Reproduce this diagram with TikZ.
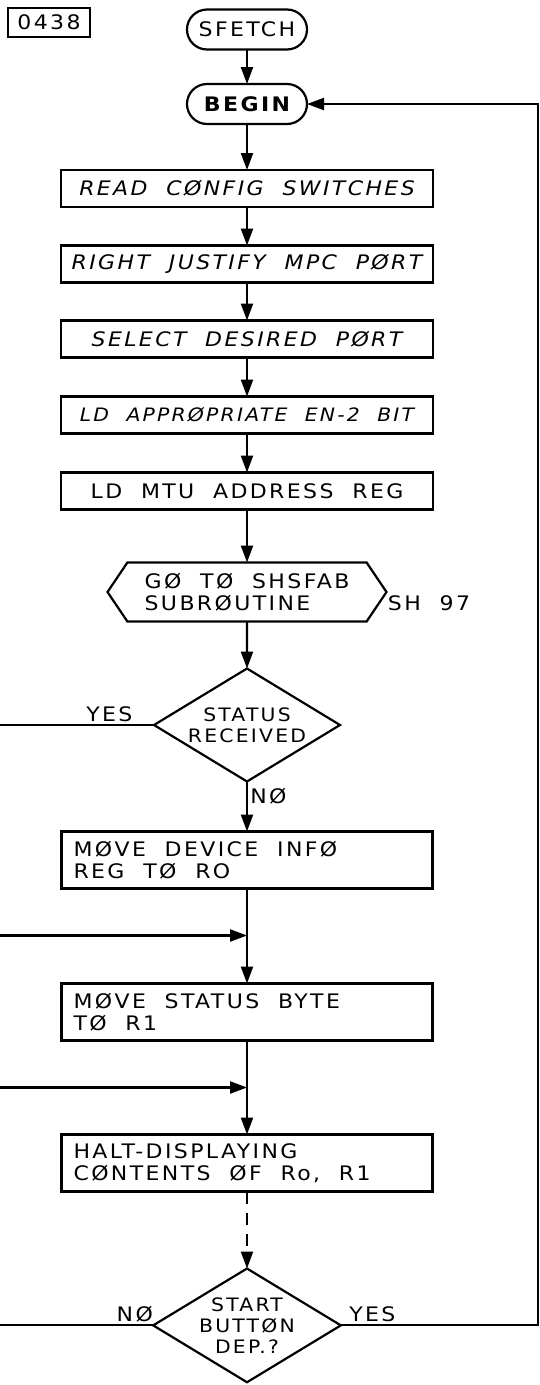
\documentclass[tikz,border=0pt]{standalone}
\usepackage{fontspec}
\setmainfont{DejaVu Sans}[FakeStretch=1.1,LetterSpace=12,WordSpace=2]
\usetikzlibrary{shapes.geometric,shapes.symbols,arrows.meta,positioning}

\begin{document}
\begin{tikzpicture}[
  x=1pt, y=-1pt,
  line width=2.2pt,
  every node/.style={font=\fontsize{20pt}{22pt}\selectfont, outer sep=0pt},
  term/.style={draw, rounded corners=20pt, minimum width=120pt, minimum height=40pt, inner sep=0pt},
  stepbox/.style={draw, minimum width=372pt, minimum height=37pt, inner sep=0pt},
  notebox/.style={draw, text width=347pt, inner xsep=12pt, align=left, minimum height=57pt,
    execute at begin node={\spaceskip=0pt\xspaceskip=0pt}},
  callbox/.style={draw, signal, signal to=west and east, signal pointer angle=112, minimum width=279pt, minimum height=59pt, inner sep=0pt, align=left},
  test/.style={draw, diamond, aspect=1.65, minimum width=186pt, minimum height=113pt, inner sep=0pt, align=center, font=\fontsize{18.5pt}{21pt}\selectfont},
  arr/.style={-{Triangle[length=17pt,width=12pt]}}
]
\useasboundingbox (0,0) rectangle (540,1385);
\coordinate (edge) at (0,0);
\coordinate (redge) at (538,0);

\node[draw, minimum width=82pt, minimum height=29pt, inner sep=0pt] (sheet) at (49,22.5) {0438};
\node[term] (sfetch) at (247,29.5) {SFETCH};
\node[term, below=34.5pt of sfetch] (begin) {\bfseries BEGIN};
\node[stepbox, below=46pt of begin] (readsw) {\itshape READ CØNFIG SWITCHES};
\node[stepbox, below=38.5pt of readsw] (justify) {\itshape RIGHT JUSTIFY MPC PØRT};
\node[stepbox, below=38pt of justify] (select) {\itshape SELECT DESIRED PØRT};
\node[stepbox, below=39pt of select, font=\fontsize{18.5pt}{22pt}\selectfont] (ldbit) {\itshape LD APPRØPRIATE EN-2 BIT};
\node[stepbox, below=39pt of ldbit] (ldmtu) {LD MTU ADDRESS REG};
\node[callbox, below=53pt of ldmtu] (gosub) {GØ TØ SHSFAB\\SUBRØUTINE};
\node (sh) at (429,603) {SH 97};
\node[test, below=47pt of gosub] (status) {STATUS\\RECEIVED};
\node[notebox, below=50pt of status] (movedev) {MØVE DEVICE INFØ\\REG TØ RO};
\node[notebox, below=95pt of movedev] (movestat) {MØVE STATUS BYTE\\TØ R1};
\node[notebox, below=94pt of movestat] (halt) {HALT-DISPLAYING\\CØNTENTS ØF Ro, R1};
\node[test, below=77pt of halt] (start) {START\\BUTTØN\\DEP.?};
\coordinate[below=47pt of movedev] (join1);
\coordinate[below=47pt of movestat] (join2);

\foreach \a/\b in {sfetch/begin, begin/readsw, readsw/justify, justify/select, select/ldbit, ldbit/ldmtu, ldmtu/gosub, gosub/status, movedev/movestat, movestat/halt}
  \draw[arr] (\a) -- (\b);
\draw[arr] (status) -- node[right, pos=0.3] {NØ} (movedev);
\draw (status.west) -- node[above, pos=0.29] {YES} (status.west -| edge);
\draw[arr] (join1 -| edge) -- (join1);
\draw[arr] (join2 -| edge) -- (join2);
\draw[arr, dash pattern=on 12pt off 9pt] (halt) -- (start);
\draw (start.west) -- node[above, pos=0.12] {NØ} (start.west -| edge);
\draw[arr] (start.east) -- node[above, pos=0.16] {YES} (start.east -| redge) -- (begin.east -| redge) -- (begin.east);
\end{tikzpicture}
\end{document}
